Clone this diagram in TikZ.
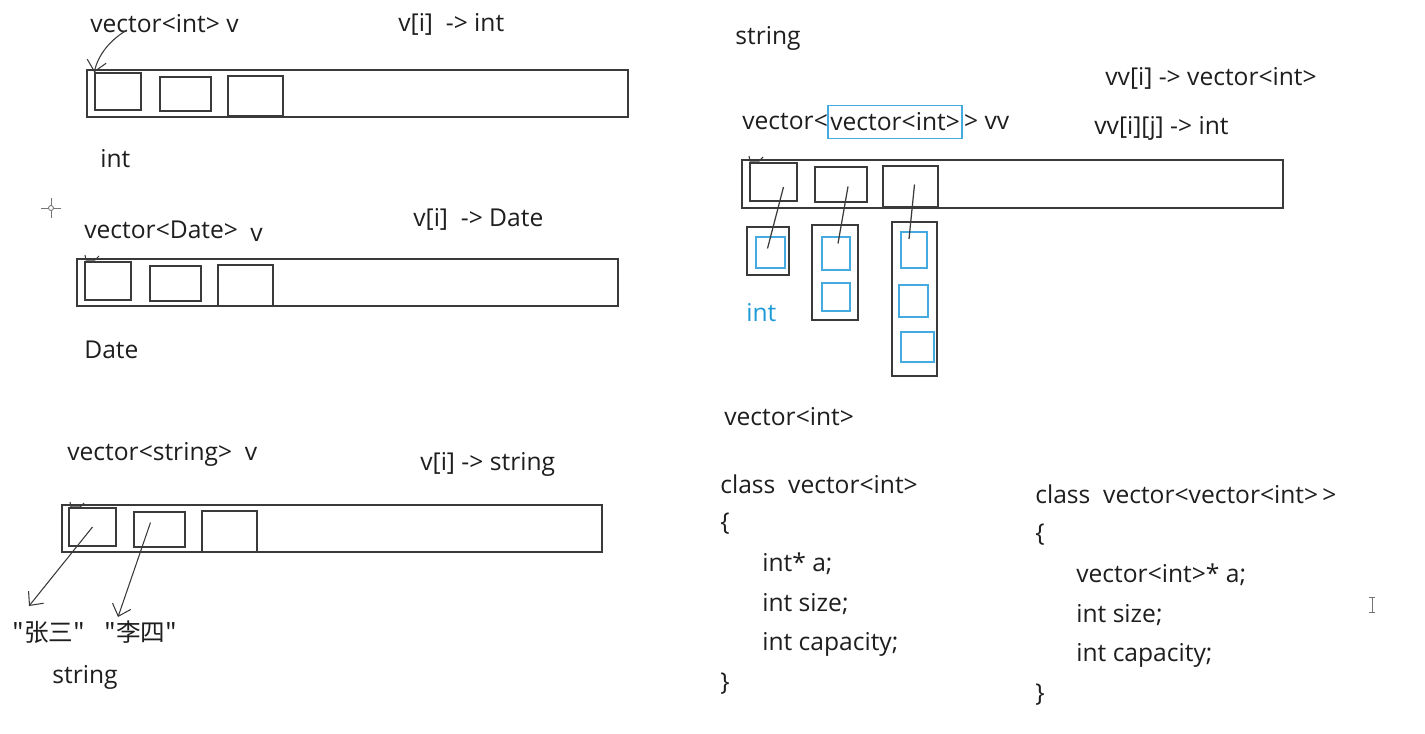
\documentclass[tikz,border=0pt]{standalone}
\usepackage{fontspec}
\setmainfont{Open Sans}
\newfontfamily\cjk{Noto Sans CJK SC}
\usetikzlibrary{fit,positioning,arrows.meta}
\definecolor{ink}{HTML}{1E1E1E}
\definecolor{pen}{HTML}{3A3A3A}
\definecolor{myblue}{HTML}{1E9BD7}
\definecolor{boxblue}{HTML}{45AADF}

\tikzset{
  lbl/.style={anchor=west, inner sep=0, text=ink, font=\fontsize{14}{16}\selectfont},
  cell/.style={draw=pen, line width=0.8pt, inner sep=0},
  bcell/.style={draw=boxblue, line width=0.8pt, inner sep=0},
  hand/.style={draw=pen, line width=0.6pt, -{Straight Barb[length=6pt,width=11pt]}},
  link/.style={draw=pen, line width=0.7pt},
  nick/.style={draw=pen, line width=0.6pt},
}

\begin{document}
\begin{tikzpicture}[x=0.02cm, y=-0.02cm]
\fill[white] (0,0) rectangle (1425,733);
\useasboundingbox (0,0) rectangle (1425,733);

% vector<int>
\node[lbl] (vec1) at (90,24) {vector<int> v};
\node[lbl] (acc1) at (398,24) {v[i]\ \ -> int};
\node[cell, fit={(87,70) (628,117)}] (row1) {};
\node[cell, fit={(95,73) (141,110)}] (c11) {};
\node[cell, fit={(160,77) (211,111)}] (c12) {};
\node[cell, fit={(228,76) (283,116)}] (c13) {};
\node[lbl] (int1) at (100,159) {int};
\coordinate (t1) at (127,30);
\draw[hand] (t1) .. controls (110,40) and (98,55) .. (c11.north west);

% cursor
\draw[pen!70, line width=0.5pt] (41,208) -- (48,208) (54,208) -- (61,208)
  (51,198) -- (51,205) (51,211) -- (51,218);
\draw[pen!70, line width=0.5pt] (51,208) circle (2.5);

% vector<Date>
\node[lbl] (vec2) at (84,230) {vector<Date>};
\node[lbl] (vec2v) at (250,235) {v};
\node[lbl] (acc2) at (413,219) {v[i]\ \ -> Date};
\node[cell, fit={(77,259) (618,306)}] (row2) {};
\node[cell, fit={(85,262) (131,300)}] (c21) {};
\node[cell, fit={(150,266) (201,301)}] (c22) {};
\node[cell, fit={(218,265) (273,306)}] (c23) {};
\draw[nick] (85,255) -- (86,260) -- (95,260) -- (99,256);
\node[lbl] (date) at (84,350) {Date};

% vector<string>
\node[lbl] (vec3) at (67,454) {vector<string>\ \ v};
\node[lbl] (acc3) at (420,464) {v[i] -> string};
\node[cell, fit={(62,505) (602,552)}] (row3) {};
\node[cell, fit={(69,508) (116,546)}] (c31) {};
\node[cell, fit={(134,512) (185,547)}] (c32) {};
\node[cell, fit={(202,511) (257,552)}] (c33) {};
\draw[nick] (70,502) -- (71,507) -- (80,507) -- (84,503);
\node[lbl] (zhang) at (12,632) {\cjk "张三"};
\node[lbl] (lisi) at (104,632) {\cjk "李四"};
\node[lbl] (str1) at (52,677) {string};
\coordinate (e1) at (29,606);
\coordinate (e2) at (118,617);
\draw[hand] (c31.center) -- (e1);
\draw[hand] ([shift={(-9,-7)}]c32.center) -- (e2);

% vector<vector<int>>
\node[lbl] (str2) at (735,38) {string};
\node[lbl] (acc4) at (1105,78) {vv[i] -> vector<int>};
\node[lbl] (vvpre) at (742,122) {vector<};
\node[lbl, right=1pt of vvpre] (vvin) {vector<int>};
\node[bcell, fit=(vvin), inner xsep=1pt, inner ysep=4pt] (vvbox) {};
\node[lbl, right=2pt of vvin] (vvpost) {> vv};
\node[lbl] (acc5) at (1094,128) {vv[i][j] -> int};
\node[cell, fit={(742,160) (1283,208)}] (row4) {};
\node[cell, fit={(750,163) (797,201)}] (top1) {};
\node[cell, fit={(815,167) (867,202)}] (top2) {};
\node[cell, fit={(883,166) (938,207)}] (top3) {};
\draw[nick] (749,156) -- (750,161) -- (759,161) -- (763,157);
\node[cell, fit={(747,227) (789,275)}] (col1) {};
\node[cell, fit={(812,225) (858,320)}] (col2) {};
\node[cell, fit={(892,222) (937,376)}] (col3) {};
\node[bcell, fit={(756,237) (785,268)}] (in11) {};
\node[bcell, fit={(822,237) (850,270)}] (in21) {};
\node[bcell, fit={(822,283) (850,311)}] (in22) {};
\node[bcell, fit={(901,232) (927,268)}] (in31) {};
\node[bcell, fit={(899,285) (928,317)}] (in32) {};
\node[bcell, fit={(901,332) (934,362)}] (in33) {};
\draw[link] ([shift={(10,5)}]top1.center) -- ([shift={(-3,-4)}]in11.center);
\draw[link] ([shift={(7,2)}]top2.center) -- ([shift={(2,-10)}]in21.center);
\draw[link] ([shift={(4,-2)}]top3.center) -- ([shift={(-5,-11)}]in31.center);
\node[lbl, text=myblue] (int2) at (746,313) {int};

% class code
\node[lbl] (vint) at (724,417) {vector<int>};
\node[lbl] (cls1) at (720,484) {class\ \ vector<int>};
\node[lbl] (ob1) at (720,524) {\{};
\node[lbl] (m11) at (762,564) {int* a;};
\node[lbl] (m12) at (762,604) {int size;};
\node[lbl] (m13) at (762,644) {int capacity;};
\node[lbl] (cb1) at (720,684) {\}};
\node[lbl] (cls2) at (1035,494) {class\ \ vector<vector<int>\,>};
\node[lbl] (ob2) at (1035,535) {\{};
\node[lbl] (m21) at (1076,575) {vector<int>* a;};
\node[lbl] (m22) at (1076,615) {int size;};
\node[lbl] (m23) at (1076,655) {int capacity;};
\node[lbl] (cb2) at (1035,695) {\}};

% text cursor
\draw[pen!70, line width=0.5pt] (1372,597) -- (1372,612)
  (1369,597) -- (1375,597) (1369,612) -- (1375,612);
\end{tikzpicture}
\end{document}
